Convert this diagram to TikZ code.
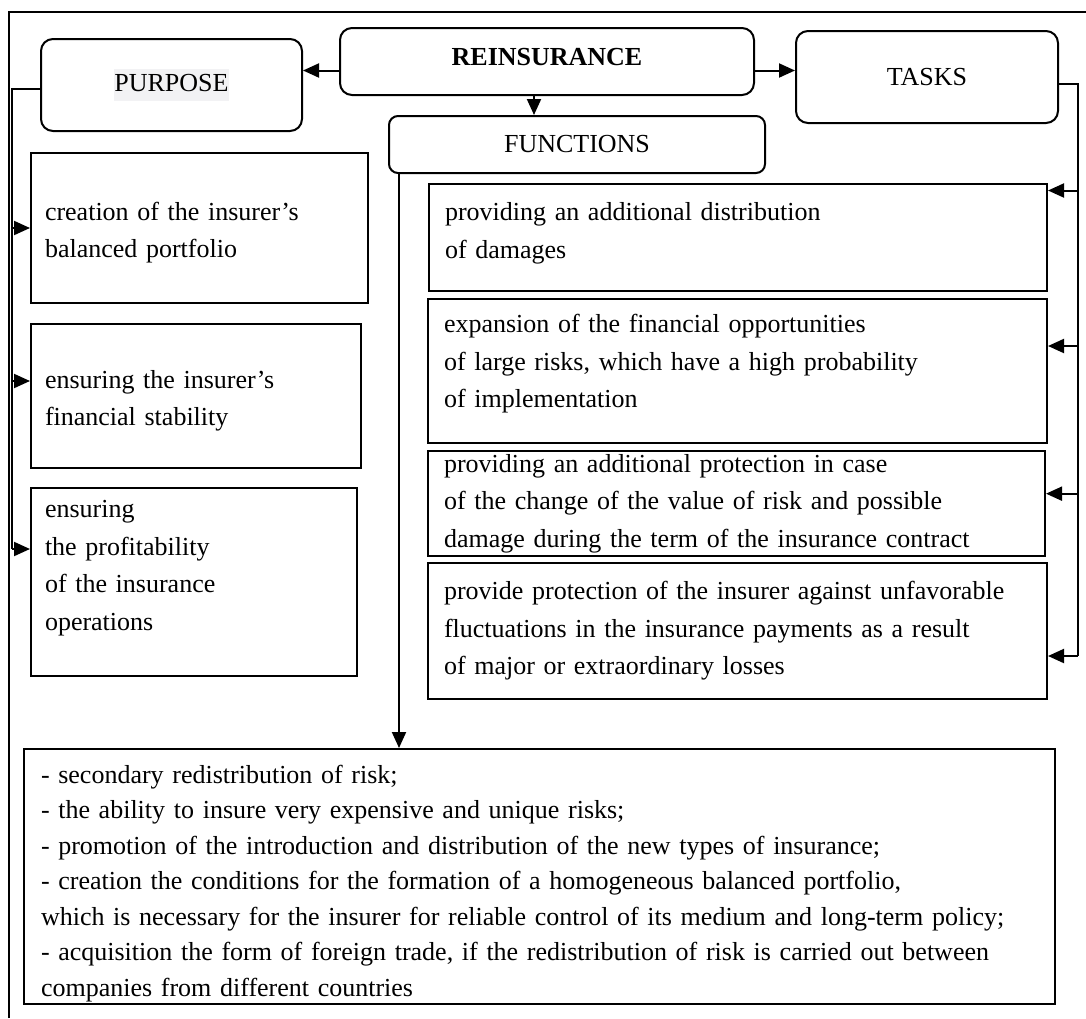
\documentclass[tikz,border=0pt]{standalone}
\usepackage{fontspec}
\setmainfont{Liberation Serif}
\usepackage{xcolor}
\usetikzlibrary{positioning, arrows.meta}

\definecolor{hlgray}{HTML}{F2F2F4}

\tikzset{
    head/.style={draw, line width=2pt, rounded corners=12pt, anchor=north west,
        font=\fontsize{26}{32}\selectfont},
    block/.style={draw, line width=2pt, rectangle, anchor=north west, align=left,
        inner xsep=16pt, font=\fontsize{26}{37.5}\selectfont},
}

\begin{document}
\begin{tikzpicture}[x=1pt, y=-1pt, line width=2pt, >={Triangle[length=16pt, width=14pt]}]
    \useasboundingbox (0,0) rectangle (1086,1018);
    \draw[line width=1.5pt] (9,1018) -- (9,12) -- (1086,12);

    % top row
    \node[head, minimum width=414pt, minimum height=67pt, text depth=9pt,
        font=\fontsize{26}{32}\selectfont\bfseries] (rei) at (339,27) {REINSURANCE};
    \node[head, minimum width=261pt, minimum height=92pt] (pur) at (40,38)
        {\setlength{\fboxsep}{0pt}\colorbox{hlgray}{\vrule width 0pt height 22pt depth 10pt PURPOSE}};
    \node[head, minimum width=262pt, minimum height=92pt] (tas) at (795,30) {TASKS};
    \node[head, rounded corners=9pt, minimum width=376pt, minimum height=57pt] (fun) at (388,115) {FUNCTIONS};

    % purpose
    \node[block, inner xsep=14pt, minimum width=337pt, minimum height=150pt, text width=309pt] (p1) at (30,152)
        {\rule{0pt}{28pt}creation of the insurer’s\\balanced portfolio};
    \node[block, inner xsep=14pt, minimum width=330pt, minimum height=144pt, text width=302pt] (p2) at (30,323)
        {\rule{0pt}{28pt}ensuring the insurer’s\\financial stability};
    \node[block, inner xsep=14pt, minimum width=326pt, minimum height=188pt, text width=298pt,
        text depth=146pt] (p3) at (30,487)
        {ensuring\\the profitability\\of the insurance\\operations};

    % tasks
    \node[block, minimum width=618pt, minimum height=107pt, text width=586pt] (f1) at (428,183)
        {providing an additional distribution\\of damages\rule[-14pt]{0pt}{14pt}};
    \node[block, minimum width=619pt, minimum height=144pt, text width=587pt] (f2) at (427,298)
        {expansion of the financial opportunities\\of large risks, which have a high probability\\of implementation\rule[-20pt]{0pt}{20pt}};
    \node[block, minimum width=617pt, minimum height=103pt, text width=585pt] (f3) at (427,450)
        {providing an additional protection in case\\of the change of the value of risk and possible\\damage during the term of the insurance contract};
    \node[block, minimum width=619pt, minimum height=136pt, text width=587pt] (f4) at (427,562)
        {provide protection of the insurer against unfavorable\\fluctuations in the insurance payments as a result\\of major or extraordinary losses};

    % functions
    \node[block, inner xsep=17pt, minimum width=1031pt, minimum height=255pt, text width=997pt,
        text depth=205pt, font=\fontsize{26}{35.5}\selectfont] (lst) at (23,748)
        {- secondary redistribution of risk;\\
         - the ability to insure very expensive and unique risks;\\
         - promotion of the introduction and distribution of the new types of insurance;\\
         - creation the conditions for the formation of a homogeneous balanced portfolio,\\
         which is necessary for the insurer for reliable control of its medium and long-term policy;\\
         - acquisition the form of foreign trade, if the redistribution of risk is carried out between\\
         companies from different countries};

    \draw[->] ([yshift=-9pt]rei.west) -- ([yshift=-9pt]rei.west -| pur.east);
    \draw[->] ([yshift=-9pt]rei.east) -- ([yshift=-9pt]rei.east -| tas.west);
    \draw[->] ([xshift=-13pt]rei.south) -- ([xshift=-13pt]rei.south |- fun.north);

    \coordinate (lbus) at (12,88);
    \draw ([yshift=-4pt]pur.west) -| ([yshift=33pt]p3.west -| lbus);
    \draw[->] (p1.west -| lbus) -- (p1.west);
    \draw[->] ([yshift=15pt]p2.west -| lbus) -- ([yshift=15pt]p2.west);
    \draw[->] ([yshift=33pt]p3.west -| lbus) -- ([yshift=33pt]p3.west);

    \coordinate (rbus) at (1078,83);
    \draw ([yshift=-7pt]tas.east) -| ([yshift=-25pt]f4.east -| rbus);
    \draw[->] ([yshift=47pt]f1.east -| rbus) -- ([yshift=47pt]f1.east);
    \draw[->] ([yshift=25pt]f2.east -| rbus) -- ([yshift=25pt]f2.east);
    \draw[->] ([yshift=10pt]f3.east -| rbus) -- ([yshift=10pt]f3.east);
    \draw[->] ([yshift=-25pt]f4.east -| rbus) -- ([yshift=-25pt]f4.east);

    \draw[->] ([xshift=11pt]fun.south west) -- ([xshift=11pt]fun.south west |- lst.north);
\end{tikzpicture}
\end{document}
